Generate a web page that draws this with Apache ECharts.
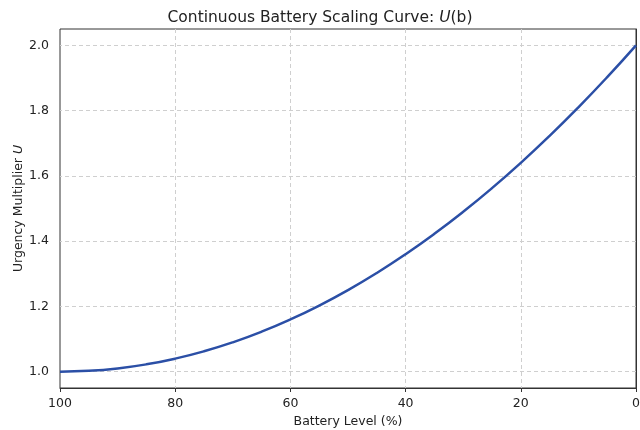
<!DOCTYPE html>
<html><head><meta charset="utf-8">
<script src="https://cdn.jsdelivr.net/npm/echarts@6/dist/echarts.min.js"></script>
<style>html,body{margin:0;padding:0;background:#fff}#c{width:640px;height:430px}</style>
</head><body><div id="c"></div>
<script>
const batteryLevels = [100,95,90,85,80,75,70,65,60,55,50,45,40,35,30,25,20,15,10,5,0];
const urgency = [1.0,1.0025,1.01,1.0225,1.04,1.0625,1.09,1.1225,1.16,1.2025,1.25,1.3025,1.36,1.4225,1.49,1.5625,1.64,1.7225,1.81,1.9025,2.0];
const yTicks = [1.0,1.2,1.4,1.6,1.8,2.0];
const xTicks = [0,20,40,60,80,100];

const font = 'DejaVu Sans';
const chart = echarts.init(document.getElementById('c'));
chart.setOption({
  animation:false,
  backgroundColor:'#fff',
  title:{
    text:'Continuous Battery Scaling Curve: {i|U}(b)',
    left:'center', top:5,
    textStyle:{fontFamily:font,fontSize:15.5,fontWeight:'normal',color:'#222',
      rich:{i:{fontFamily:font,fontSize:15.5,fontStyle:'italic',color:'#222'}}}
  },
  grid:{left:60,right:4,top:29,bottom:42,outerBoundsMode:'none',containLabel:false,show:true,borderColor:'#333',borderWidth:1,backgroundColor:'transparent'},
  xAxis:{
    type:'value', inverse:true, min:0, max:100, interval:20,
    name:'Battery Level (%)', nameLocation:'middle', nameGap:27, nameMoveOverlap:false,
    nameTextStyle:{fontFamily:font,fontSize:12.5,color:'#222'},
    axisLine:{show:true,onZero:false,lineStyle:{color:'#333'}},
    axisTick:{show:true,length:4,lineStyle:{color:'#333'}},
    axisLabel:{fontFamily:font,fontSize:12.5,color:'#222',margin:9},
    splitLine:{show:true,showMinLine:false,showMaxLine:false,lineStyle:{color:'#cfcfcf',type:[4,3]}}
  },
  yAxis:{
    type:'value', min:0.95, max:2.05,
    name:'Urgency Multiplier {i|U}', nameLocation:'middle', nameGap:35, nameMoveOverlap:false,
    nameTextStyle:{fontFamily:font,fontSize:12.5,color:'#222',rich:{i:{fontFamily:font,fontSize:12.5,fontStyle:'italic',color:'#222'}}},
    axisLine:{show:true,lineStyle:{color:'#333'}},
    axisTick:{show:true,length:4,lineStyle:{color:'#333'},customValues:yTicks},
    axisLabel:{fontFamily:font,fontSize:12.5,color:'#222',margin:11,customValues:yTicks,formatter:v=>v.toFixed(1)},
    splitLine:{show:false}
  },
  series:[{
    type:'line', data:[], z:1, silent:true,
    markLine:{silent:true,symbol:'none',label:{show:false},
      lineStyle:{color:'#cfcfcf',type:[4,3],width:1},
      data:yTicks.map(v=>({yAxis:v}))}
  },{
    type:'line', data:batteryLevels.map((b,i)=>[b,urgency[i]]), z:5,
    smooth:true, showSymbol:false, lineStyle:{color:'#2b4fa6',width:2.5}
  }]
});
</script></body></html>
